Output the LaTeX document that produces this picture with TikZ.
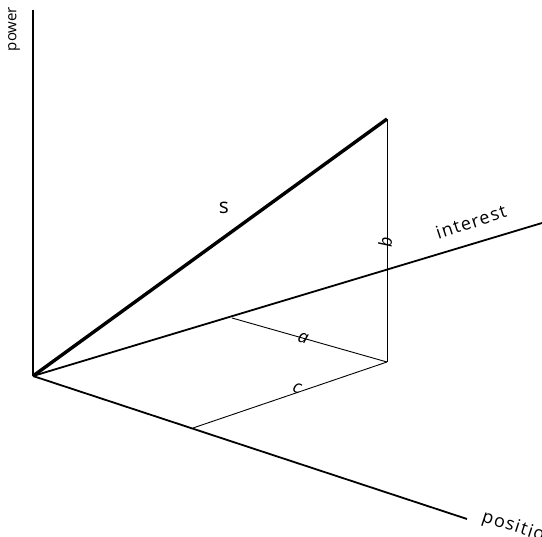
\documentclass[tikz,border=0pt]{standalone}
\usepackage{fontspec}
\setmainfont{Open Sans}
\newfontfamily\spaced[LetterSpace=7]{Open Sans}
\begin{document}
\begin{tikzpicture}[x=1pt,y=-1pt,
  axis/.style={line width=1.8pt},
  thinln/.style={line width=0.9pt},
  heavy/.style={line width=3.4pt},
  lbl/.style={font=\fontsize{15}{17}\selectfont, inner sep=0pt},
  axlbl/.style={font=\spaced\fontsize{18}{20}\selectfont, inner sep=0pt},
  seglbl/.style={font=\itshape\fontsize{18}{20}\selectfont, inner sep=0pt}]
\useasboundingbox (0,0) rectangle (542,537);
\coordinate (O) at (33,376);
\coordinate (P) at (33,10);
\coordinate (I) at (542,223);
\coordinate (Q) at (467,519);
\coordinate (S) at (387,119);
\coordinate (B) at (387,362);
\coordinate (A) at (232,318);
\coordinate (C) at (193,428);
\draw[axis] (O) -- (P);
\draw[axis] (O) -- (I);
\draw[axis] (O) -- (Q);
\draw[heavy] (O) -- (S);
\draw[thinln] (S) -- (B);
\draw[thinln] (A) -- (B);
\draw[thinln] (C) -- (B);
\node[lbl, rotate=90] (pw) at (14,29) {power};
\node[axlbl, rotate=18] (in) at (471,222) {interest};
\node[axlbl, rotate=-18] (po) at (519,529) {position};
\node[lbl, font=\fontsize{21}{23}\selectfont] (sl) at (224,208) {s};
\node[seglbl, rotate=90] (bl) at (385,242) {b};
\node[seglbl, rotate=-16] (al) at (303,338) {a};
\node[seglbl, rotate=-19] (cl) at (297,388) {c};
\end{tikzpicture}
\end{document}
